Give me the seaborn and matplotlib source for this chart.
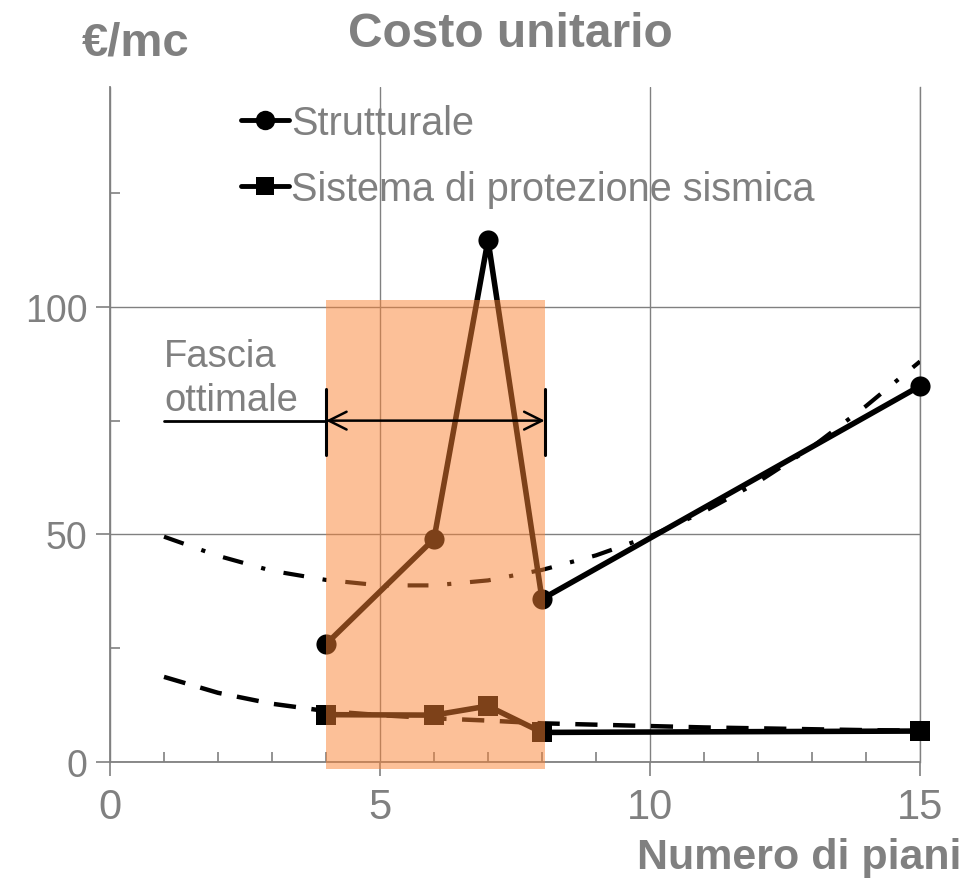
import matplotlib
matplotlib.use("Agg")
import matplotlib.pyplot as plt
import seaborn as sns
from matplotlib.lines import Line2D
from matplotlib.patches import Rectangle
from matplotlib.ticker import MultipleLocator

# Data
piani = [4, 6, 7, 8, 15]
strutturale = [25.9, 49.0, 114.7, 35.8, 82.6]
protezione = [10.4, 10.3, 12.3, 6.5, 6.8]

# Trend curves (read at each floor count)
piani_trend = [1, 2, 3, 4, 5, 6, 7, 8, 9, 10, 11, 12, 13, 14, 15]
trend_strutturale = [49.5, 45.3, 42.0, 40.0, 38.8, 38.8, 39.9, 42.2, 45.4, 49.6, 55.0, 61.5, 69.2, 78.2, 88.0]
trend_protezione = [18.7, 15.2, 12.8, 11.2, 10.3, 9.6, 9.1, 8.5, 8.2, 7.9, 7.6, 7.4, 7.2, 7.0, 6.9]

# Optimal band and its annotation
fascia = (4, 8.05)
fascia_top = 101.5
fascia_bottom = -1.5
freccia_y = 75
freccia_start = 1

GRAY = "#808080"

sns.set_style("white")
plt.rcParams["font.family"] = ["Liberation Sans", "DejaVu Sans"]

fig = plt.figure(figsize=(9.63, 8.79), dpi=100)
ax = fig.add_axes([110 / 963, 116 / 879, 810 / 963, 675 / 879])

# trend lines
sns.lineplot(x=piani_trend, y=trend_strutturale, color="black", lw=3.0,
             linestyle=(0, (5, 4.5, 1, 4.5)), ax=ax, zorder=3)
sns.lineplot(x=piani_trend, y=trend_protezione, color="black", lw=3.2,
             linestyle=(0, (5, 3.5)), ax=ax, zorder=3)

# data series
sns.lineplot(x=piani, y=strutturale, color="black", lw=4, marker="o",
             markersize=14.5, markeredgewidth=0, ax=ax, zorder=4, clip_on=False)
sns.lineplot(x=piani, y=protezione, color="black", lw=4, marker="s",
             markersize=14, markeredgewidth=0, ax=ax, zorder=4, clip_on=False)

# shaded optimal band (overlay)
ax.add_patch(Rectangle((fascia[0], fascia_bottom), fascia[1] - fascia[0],
                       fascia_top - fascia_bottom, facecolor=(0.98, 0.51, 0.2),
                       alpha=0.5, edgecolor="none", zorder=5, clip_on=False))

# arrow annotation
ax.plot([freccia_start, fascia[0]], [freccia_y, freccia_y], color="black", lw=2, zorder=6)
ax.annotate("", xy=(fascia[1], freccia_y), xytext=(fascia[0], freccia_y),
            arrowprops=dict(arrowstyle="<->", color="black", lw=1.8,
                            mutation_scale=32, shrinkA=0, shrinkB=0), zorder=6)
for xv in fascia:
    ax.plot([xv, xv], [freccia_y - 7.5, freccia_y + 7], color="black", lw=2.2, zorder=6)
ax.text(freccia_start, freccia_y + 0.6, "Fascia\nottimale", color=GRAY,
        fontsize=27.5, ha="left", va="bottom", linespacing=1.28)

# axes
ax.set_xlim(0, 15)
ax.set_ylim(0, 148.3)
ax.xaxis.set_major_locator(MultipleLocator(5))
ax.xaxis.set_minor_locator(MultipleLocator(1))
ax.yaxis.set_major_locator(MultipleLocator(50))
ax.yaxis.set_minor_locator(MultipleLocator(25))
ax.grid(True, which="major", color=GRAY, lw=1.0)
ax.set_axisbelow(True)
ax.spines["top"].set_visible(False)
for side in ["left", "bottom", "right"]:
    ax.spines[side].set_color(GRAY)
    ax.spines[side].set_linewidth(1.0)
ax.spines["left"].set_linewidth(1.3)
ax.spines["bottom"].set_linewidth(1.3)
ax.tick_params(axis="both", which="both", bottom=True, left=True, top=False, right=False)
ax.tick_params(axis="both", which="major", direction="out", length=10, width=1.2,
               color=GRAY, labelcolor=GRAY)
ax.tick_params(axis="both", which="minor", direction="in", length=7, width=1.2, color=GRAY)
ax.tick_params(axis="x", which="major", labelsize=30, pad=8)
ax.tick_params(axis="y", which="major", labelsize=27, pad=6)
ax.set_xlabel("")
ax.set_ylabel("")

# legend
handles = [
    Line2D([], [], color="black", lw=3.5, marker="o", markersize=14, markeredgewidth=0),
    Line2D([], [], color="black", lw=3.5, marker="s", markersize=13, markeredgewidth=0),
]
ax.legend(handles, ["Strutturale", "Sistema di protezione sismica"], loc="upper left",
          bbox_to_anchor=(0.162, 0.975), frameon=False, fontsize=28.5, labelcolor=GRAY,
          handlelength=1.2, handletextpad=0.05, labelspacing=0.7, borderpad=0,
          borderaxespad=0)

# titles
fig.text(82 / 963, 1 - 55 / 879, "€/mc", color=GRAY, fontsize=34, fontweight="bold",
         ha="left", va="baseline")
fig.text(510 / 963, 1 - 47 / 879, "Costo unitario", color=GRAY, fontsize=34.5,
         fontweight="bold", ha="center", va="baseline")
fig.text(961 / 963, 1 - 869 / 879, "Numero di piani", color=GRAY, fontsize=31,
         fontweight="bold", ha="right", va="baseline")

fig.savefig("out.png", dpi=100)
